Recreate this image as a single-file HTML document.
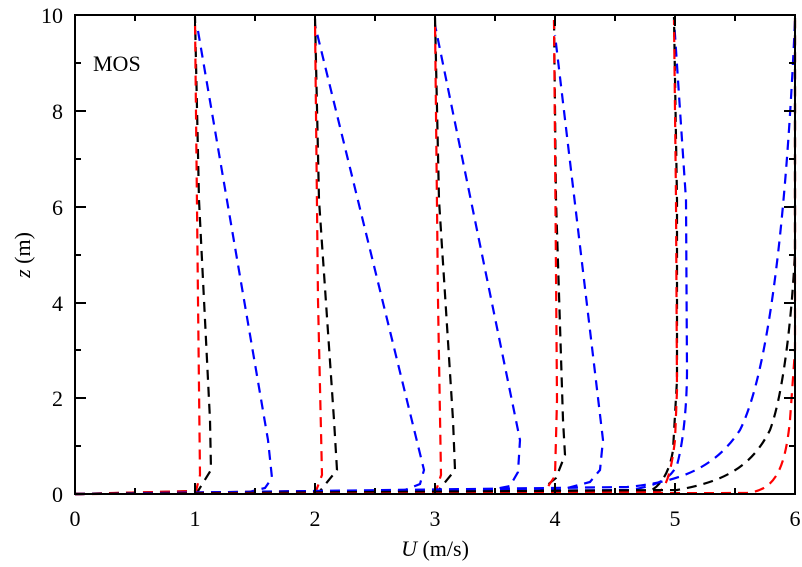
<!DOCTYPE html>
<html><head><style>body{margin:0;background:#fff}svg{display:block}text{font-family:"Liberation Serif",serif;font-size:22px;fill:#000}</style></head><body>
<svg width="802" height="567" viewBox="0 0 802 567" xmlns="http://www.w3.org/2000/svg">
<g fill="none" stroke-width="2.2" stroke-dasharray="10,7">
<!-- k=1 -->
<path stroke="#00f" d="M75,494 L245,493 L265,488 L272,478 L268,440 L197,25"/>
<path stroke="#000" d="M75,494 L198,491 L211,470 L210,420 L199,200 L195,17"/>
<path stroke="#f00" d="M75,494 L196,491 L200,475 L198,300 L195,20"/>
<!-- k=2 -->
<path stroke="#00f" d="M75,494 L380,493 L405,490 L420,484 L424,470 L315,25"/>
<path stroke="#000" d="M75,494 L320,491 L337,470 L334,420 L319,200 L315,17"/>
<path stroke="#f00" d="M75,494 L316,491 L322,475 L318,300 L315,20"/>
<!-- k=3 -->
<path stroke="#00f" d="M75,494 L480,492 L510,486 L518,472 L520,440 L435,25"/>
<path stroke="#000" d="M75,494 L438,491 L455,470 L453,420 L439,200 L435,17"/>
<path stroke="#f00" d="M75,494 L436,491 L441,475 L438,300 L435,20"/>
<!-- k=4 -->
<path stroke="#00f" d="M75,494 L560,490 L590,482 L600,470 L603,440 L555,35"/>
<path stroke="#000" d="M75,494 L540,491 L556,478 L565,455 L563,420 L556,200 L554,17"/>
<path stroke="#f00" d="M75,494 L545,491 L555,476 L557,400 L554,20"/>
<!-- k=5 -->
<path stroke="#00f" d="M75,494 L630,490 C655,486 670,480 677,465 C684,440 687,400 687,370 L686,200 L674,20"/>
<path stroke="#000" d="M75,494 L650,491 C662,485 670,470 673,450 L677,380 L677,200 L674,17"/>
<path stroke="#f00" d="M75,494 L660,491 C668,485 672,465 675,440 L677,390 L676,200 L674,20"/>
<!-- k=6 -->
<path stroke="#00f" d="M75,494 L627,487 C680,482 715,468 740,430 C765,380 785,250 795,20"/>
<path stroke="#000" d="M75,494 L677,490 C720,482 750,470 770,430 C785,390 793,300 795,250 L795,17"/>
<path stroke="#f00" d="M75,494 L747,493 C775,490 785,470 790,420 L795,350 L795,20"/>
</g>
<g stroke="#000" stroke-width="2" fill="none">
<rect x="75" y="15" width="720" height="479"/>
<path d="M195,494v-11M315,494v-11M435,494v-11M555,494v-11M675,494v-11M195,15v11M315,15v11M435,15v11M555,15v11M675,15v11
M135,494v-6M255,494v-6M375,494v-6M495,494v-6M615,494v-6M735,494v-6M135,15v6M255,15v6M375,15v6M495,15v6M615,15v6M735,15v6
M75,111h11M75,207h11M75,303h11M75,398h11M795,111h-11M795,207h-11M795,303h-11M795,398h-11
M75,63h6M75,159h6M75,255h6M75,350h6M75,446h6M795,63h-6M795,159h-6M795,255h-6M795,350h-6M795,446h-6"/>
</g>
<g text-anchor="middle">
<text x="75" y="526">0</text><text x="195" y="526">1</text><text x="315" y="526">2</text><text x="435" y="526">3</text><text x="555" y="526">4</text><text x="675" y="526">5</text><text x="795" y="526">6</text>
<text x="435" y="556"><tspan font-style="italic">U</tspan> (m/s)</text>
</g>
<g text-anchor="end">
<text x="63" y="502">0</text><text x="63" y="406">2</text><text x="63" y="311">4</text><text x="63" y="215">6</text><text x="63" y="119">8</text><text x="63" y="23">10</text>
</g>
<text transform="translate(30,255) rotate(-90)" text-anchor="middle"><tspan font-style="italic">z</tspan> (m)</text>
<text x="93" y="71">MOS</text>
</svg>
</body></html>
